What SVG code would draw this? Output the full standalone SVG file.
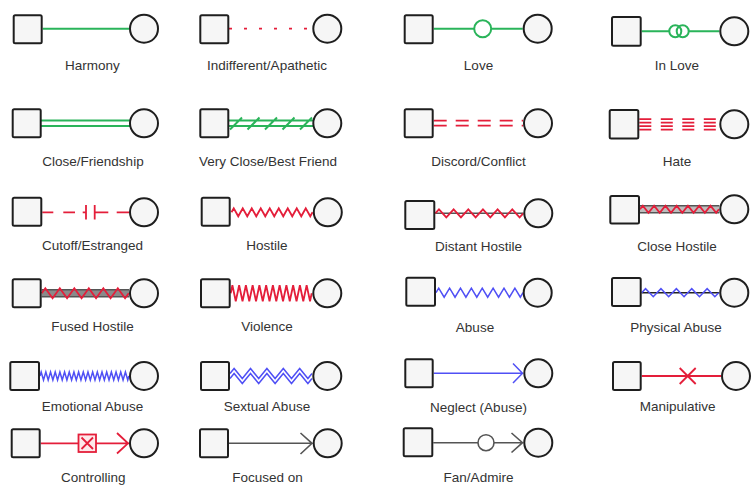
<svg xmlns="http://www.w3.org/2000/svg" width="752" height="487" viewBox="0 0 752 487">
<style>
.sq{fill:#f6f6f6;stroke:#1e1e1e;stroke-width:2}
.ci{fill:#f6f6f6;stroke:#1e1e1e;stroke-width:2}
.g{stroke:#2ab45a;stroke-width:2;fill:none}
.r{stroke:#e41e3a;stroke-width:1.8;fill:none}
.b{stroke:#5050f5;stroke-width:1.5;fill:none}
.k{stroke:#555;stroke-width:1.6;fill:none}
.lb{font-family:"Liberation Sans",Arial,sans-serif;font-size:13.5px;fill:#333;text-anchor:middle}
</style>
<rect width="752" height="487" fill="#fff"/>
<g id="connectors">
<path class="g" d="M42.7,28.7H129"/>
<path class="r" stroke-width="2.4" stroke-dasharray="3 12" d="M229,28.7H312.3"/>
<path class="g" d="M433.7,28.7H522.7"/>
<circle cx="482.7" cy="28.7" r="8.5" fill="#fff" stroke="#2ab45a" stroke-width="2"/>
<path class="g" d="M641.7,31.3H669.3M688.7,31.3H719.3"/>
<circle cx="675.3" cy="31.3" r="6" fill="none" stroke="#2ab45a" stroke-width="2"/>
<circle cx="682.7" cy="31.3" r="6" fill="none" stroke="#2ab45a" stroke-width="2"/>

<path class="g" d="M40.7,120.5H130M40.7,126H130"/>
<path class="g" d="M228.7,120.5H313M228.7,126H313M230,129.5l12,-12M247.5,129.5l12,-12M265,129.5l12,-12M282.5,129.5l12,-12M300,129.5l12,-12"/>
<path class="r" stroke-dasharray="13 9" d="M433.7,120.7H523M433.7,125.7H523"/>
<path class="r" stroke-width="1.6" stroke-dasharray="12 9.5" d="M639.3,119.2H719.3M639.3,122.7H719.3M639.3,126.2H719.3M639.3,129.7H719.3"/>

<path class="r" d="M42.3,212.3H53.3M63.3,212.3H75M82.7,212.3H86M86,205V219.5M94.7,205V219.5M94.7,212.3H108.3M116.7,212.3H129"/>
<path class="r" d="M231.5,212.3l2.25,-4l4.5,8 4.5,-8 4.5,8 4.5,-8 4.5,8 4.5,-8 4.5,8 4.5,-8 4.5,8 4.5,-8 4.5,8 4.5,-8 4.5,8 4.5,-8 4.5,8 4.5,-8 4.5,8 2.25,-4"/>
<path class="k" d="M435.3,213.3H523.3"/>
<path class="r" d="M435.3,213.3l3.67,-4l7.33,8 7.33,-8 7.33,8 7.33,-8 7.33,8 7.33,-8 7.33,8 7.33,-8 7.33,8 7.33,-8 7.33,8 3.67,-4"/>
<rect x="640" y="205.8" width="79.3" height="7" fill="#bdbdbd"/>
<path class="k" stroke-width="1.3" d="M640,205.8H719.3M640,212.8H719.3"/>
<path class="r" d="M640,209.3l2.82,-3.5l5.64,7 5.64,-7 5.64,7 5.64,-7 5.64,7 5.64,-7 5.64,7 5.64,-7 5.64,7 5.64,-7 5.64,7 5.64,-7 5.64,7 2.82,-3.5"/>

<rect x="41.7" y="289.8" width="87.3" height="7" fill="#8a8a8a"/>
<path class="k" stroke-width="1.3" d="M41.7,289.8H129M41.7,296.8H129"/>
<path class="r" d="M41.7,293.3l3.625,-5l7.25,10 7.25,-10 7.25,10 7.25,-10 7.25,10 7.25,-10 7.25,10 7.25,-10 7.25,10 7.25,-10 7.25,10 3.625,-5"/>
<path class="r" stroke-width="2" d="M230.7,293.3l1.69,-8l3.375,16 3.375,-16 3.375,16 3.375,-16 3.375,16 3.375,-16 3.375,16 3.375,-16 3.375,16 3.375,-16 3.375,16 3.375,-16 3.375,16 3.375,-16 3.375,16 3.375,-16 3.375,16 3.375,-16 3.375,16 3.375,-16 3.375,16 3.375,-16 3.375,16 1.69,-8"/>
<path class="b" d="M436,292.7l2.72,-4.5l5.44,9 5.44,-9 5.44,9 5.44,-9 5.44,9 5.44,-9 5.44,9 5.44,-9 5.44,9 5.44,-9 5.44,9 5.44,-9 5.44,9 5.44,-9 5.44,9 2.72,-4.5"/>
<path d="M641.7,292.7H719.3" stroke="#222" stroke-width="1.5"/>
<path class="b" d="M641.7,292.7l3.85,-4l7.7,8 7.7,-8 7.7,8 7.7,-8 7.7,8 7.7,-8 7.7,8 7.7,-8 7.7,8 3.85,-4"/>

<path class="b" d="M40,376l1.17,-4l2.34,8 2.34,-8 2.34,8 2.34,-8 2.34,8 2.34,-8 2.34,8 2.34,-8 2.34,8 2.34,-8 2.34,8 2.34,-8 2.34,8 2.34,-8 2.34,8 2.34,-8 2.34,8 2.34,-8 2.34,8 2.34,-8 2.34,8 2.34,-8 2.34,8 2.34,-8 2.34,8 2.34,-8 2.34,8 2.34,-8 2.34,8 2.34,-8 2.34,8 2.34,-8 2.34,8 2.34,-8 2.34,8 2.34,-8 2.34,8 1.17,-4"/>
<path class="b" d="M230,373.5l4.1,-5l8.2,10 8.2,-10 8.2,10 8.2,-10 8.2,10 8.2,-10 8.2,10 8.2,-10 8.2,10 4.1,-5M230,378.5l4.1,-5l8.2,10 8.2,-10 8.2,10 8.2,-10 8.2,10 8.2,-10 8.2,10 8.2,-10 8.2,10 4.1,-5"/>
<path class="b" stroke-width="1.8" d="M433.7,373.3H523M513,363.5L522.5,373.3L513,383"/>
<path class="r" d="M641.7,376H721M679.7,368L695.7,384M695.7,368L679.7,384"/>

<path class="r" d="M40.7,443.3H129M117,433L128,443.3L117,453.5"/>
<rect x="78.5" y="434.5" width="17.5" height="17.5" fill="#fde8ea" stroke="#e41e3a" stroke-width="1.8"/>
<path class="r" stroke-width="1.4" d="M81.5,437.5L93,449M93,437.5L81.5,449"/>
<path class="k" d="M229,443.3H312.7M300.5,433L312,443.3L300.5,454"/>
<path class="k" d="M433.3,442.7H523.3M511.5,433L522.5,442.7L511.5,452.5"/>
<circle cx="486" cy="442.7" r="8" fill="#fff" stroke="#555" stroke-width="1.6"/>
</g>
<g id="nodes">
<g id="n1m"><rect class="sq" x="13.7" y="15.3" width="28" height="28" rx="1.5"/></g>
<g id="n1f"><circle class="ci" cx="144" cy="28.7" r="14"/></g>
<g id="n2m"><rect class="sq" x="200.3" y="15.3" width="28" height="28" rx="1.5"/></g>
<g id="n2f"><circle class="ci" cx="327.3" cy="28.7" r="14"/></g>
<g id="n3m"><rect class="sq" x="404.7" y="15.3" width="28" height="28" rx="1.5"/></g>
<g id="n3f"><circle class="ci" cx="537.7" cy="28.7" r="14"/></g>
<g id="n4m"><rect class="sq" x="612" y="17" width="28.7" height="28.7" rx="1.5"/></g>
<g id="n4f"><circle class="ci" cx="734.3" cy="31.3" r="14"/></g>

<g id="n5m"><rect class="sq" x="12.7" y="109.3" width="28" height="28" rx="1.5"/></g>
<g id="n5f"><circle class="ci" cx="144" cy="123.3" r="14"/></g>
<g id="n6m"><rect class="sq" x="200.3" y="109.3" width="28" height="28" rx="1.5"/></g>
<g id="n6f"><circle class="ci" cx="327.3" cy="123.3" r="14"/></g>
<g id="n7m"><rect class="sq" x="404.7" y="109.3" width="28" height="28" rx="1.5"/></g>
<g id="n7f"><circle class="ci" cx="538" cy="123.3" r="14"/></g>
<g id="n8m"><rect class="sq" x="609.7" y="110" width="28.6" height="28.6" rx="1.5"/></g>
<g id="n8f"><circle class="ci" cx="734.3" cy="124.3" r="14"/></g>

<g id="n9m"><rect class="sq" x="12.7" y="197.7" width="28.6" height="28" rx="1.5"/></g>
<g id="n9f"><circle class="ci" cx="144" cy="212.3" r="14"/></g>
<g id="n10m"><rect class="sq" x="201.7" y="197.7" width="28" height="28" rx="1.5"/></g>
<g id="n10f"><circle class="ci" cx="327.8" cy="212.3" r="14"/></g>
<g id="n11m"><rect class="sq" x="405.3" y="201" width="29" height="28" rx="1.5"/></g>
<g id="n11f"><circle class="ci" cx="538.3" cy="213.3" r="14"/></g>
<g id="n12m"><rect class="sq" x="610.3" y="196" width="28.7" height="27.5" rx="1.5"/></g>
<g id="n12f"><circle class="ci" cx="734.3" cy="209.3" r="14"/></g>

<g id="n13m"><rect class="sq" x="12.7" y="279.3" width="28" height="28" rx="1.5"/></g>
<g id="n13f"><circle class="ci" cx="144" cy="293.3" r="14"/></g>
<g id="n14m"><rect class="sq" x="201" y="279.3" width="28.7" height="28" rx="1.5"/></g>
<g id="n14f"><circle class="ci" cx="327.3" cy="293.3" r="14"/></g>
<g id="n15m"><rect class="sq" x="406.3" y="277.7" width="28.7" height="28" rx="1.5"/></g>
<g id="n15f"><circle class="ci" cx="537.7" cy="292.7" r="14"/></g>
<g id="n16m"><rect class="sq" x="612" y="278" width="28.7" height="28" rx="1.5"/></g>
<g id="n16f"><circle class="ci" cx="734.3" cy="292.7" r="14"/></g>

<g id="n17m"><rect class="sq" x="10.3" y="362" width="28.7" height="28" rx="1.5"/></g>
<g id="n17f"><circle class="ci" cx="144" cy="376" r="14"/></g>
<g id="n18m"><rect class="sq" x="201" y="362" width="28" height="28" rx="1.5"/></g>
<g id="n18f"><circle class="ci" cx="327.3" cy="376" r="14"/></g>
<g id="n19m"><rect class="sq" x="405.3" y="359.3" width="27.4" height="28" rx="1.5"/></g>
<g id="n19f"><circle class="ci" cx="538.3" cy="373.3" r="14"/></g>
<g id="n20m"><rect class="sq" x="613" y="362" width="27.7" height="28" rx="1.5"/></g>
<g id="n20f"><circle class="ci" cx="736" cy="376" r="14"/></g>

<g id="n21m"><rect class="sq" x="11.7" y="429.3" width="28" height="28" rx="1.5"/></g>
<g id="n21f"><circle class="ci" cx="144" cy="443.3" r="14"/></g>
<g id="n22m"><rect class="sq" x="200" y="429.3" width="28" height="28" rx="1.5"/></g>
<g id="n22f"><circle class="ci" cx="327.7" cy="443.3" r="14"/></g>
<g id="n23m"><rect class="sq" x="403.7" y="428.3" width="28.6" height="28" rx="1.5"/></g>
<g id="n23f"><circle class="ci" cx="538.3" cy="442.7" r="14"/></g>
</g>
<g id="labels">
<text class="lb" x="92.5" y="69.5">Harmony</text>
<text class="lb" x="267" y="69.5">Indifferent/Apathetic</text>
<text class="lb" x="478.5" y="69.5">Love</text>
<text class="lb" x="677" y="69.5">In Love</text>
<text class="lb" x="93" y="166">Close/Friendship</text>
<text class="lb" x="268" y="166">Very Close/Best Friend</text>
<text class="lb" x="478.5" y="166">Discord/Conflict</text>
<text class="lb" x="677" y="166">Hate</text>
<text class="lb" x="92.5" y="250">Cutoff/Estranged</text>
<text class="lb" x="267" y="250">Hostile</text>
<text class="lb" x="478.5" y="250.5">Distant Hostile</text>
<text class="lb" x="677" y="250.5">Close Hostile</text>
<text class="lb" x="92.5" y="331">Fused Hostile</text>
<text class="lb" x="267" y="331">Violence</text>
<text class="lb" x="475" y="331.5">Abuse</text>
<text class="lb" x="676" y="332">Physical Abuse</text>
<text class="lb" x="92.5" y="411">Emotional Abuse</text>
<text class="lb" x="267" y="411">Sextual Abuse</text>
<text class="lb" x="478.5" y="411.5">Neglect (Abuse)</text>
<text class="lb" x="677.7" y="411">Manipulative</text>
<text class="lb" x="93.3" y="481.5">Controlling</text>
<text class="lb" x="267.5" y="481.5">Focused on</text>
<text class="lb" x="478.5" y="481.5">Fan/Admire</text>
</g>
</svg>
